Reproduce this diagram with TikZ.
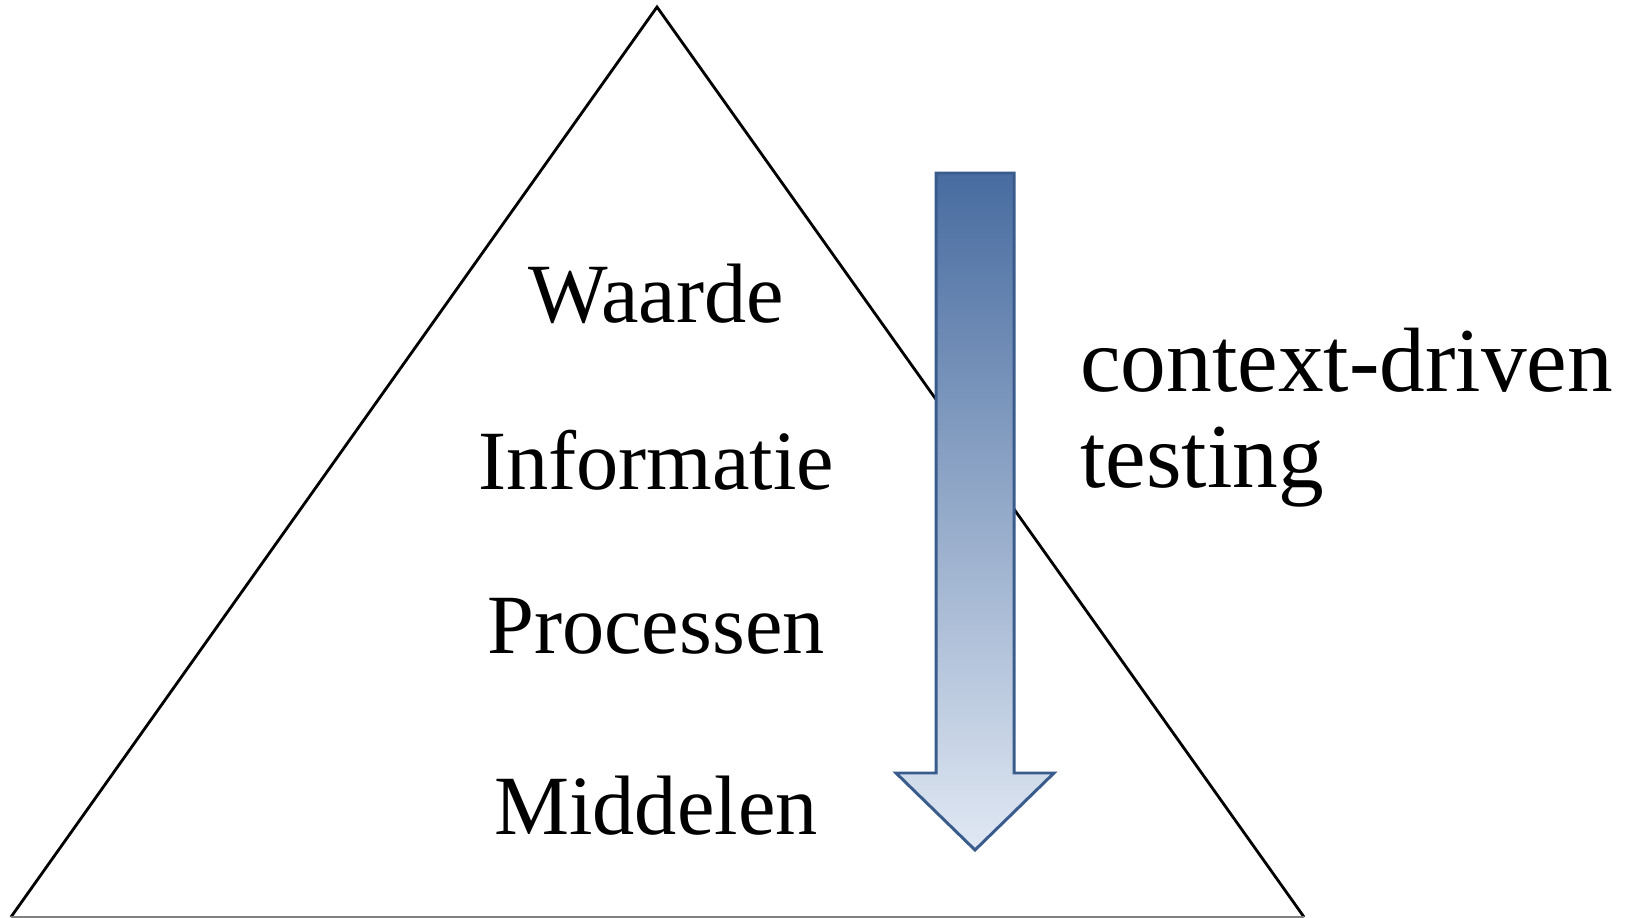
\documentclass[tikz,border=0pt]{standalone}
\usepackage{fontspec}
\setmainfont{Liberation Serif}
\definecolor{arrowtop}{RGB}{72,108,160}
\definecolor{arrowbot}{RGB}{224,232,243}
\definecolor{arrowrim}{RGB}{58,92,140}
\tikzset{
  laag/.style={anchor=base,font=\fontsize{48}{50}\selectfont},
  zij/.style={anchor=base west,font=\fontsize{52}{54}\selectfont}
}

\begin{document}
\begin{tikzpicture}[x=0.02cm,y=-0.02cm]
        \useasboundingbox (0,0) rectangle (1625,918);
        \coordinate (top) at (657,7);
        \coordinate (links) at (11,917);
        \coordinate (rechts) at (1304,917);
        \draw[line width=1.6pt,line join=miter] (links) -- (top) -- (rechts);
        \draw[line width=1pt,gray] (links) -- (rechts);
        \node[laag] (waarde) at (656,323) {Waarde};
        \node[laag] (informatie) at (656,489) {Informatie};
        \node[laag] (processen) at (656,653) {Processen};
        \node[laag] (middelen) at (656,834) {Middelen};
        \draw[line width=1.7pt,arrowrim,top color=arrowtop,bottom color=arrowbot,line join=miter]
            (936,173) -- (1014,173) -- (1014,773) -- (1054,773) -- (975,850) -- (896,773) -- (936,773) -- cycle;
        \node[zij] (context) at (1074,392) {context-driven};
        \node[zij] (testing) at (1074,487) {testing};
    \end{tikzpicture}
\end{document}
